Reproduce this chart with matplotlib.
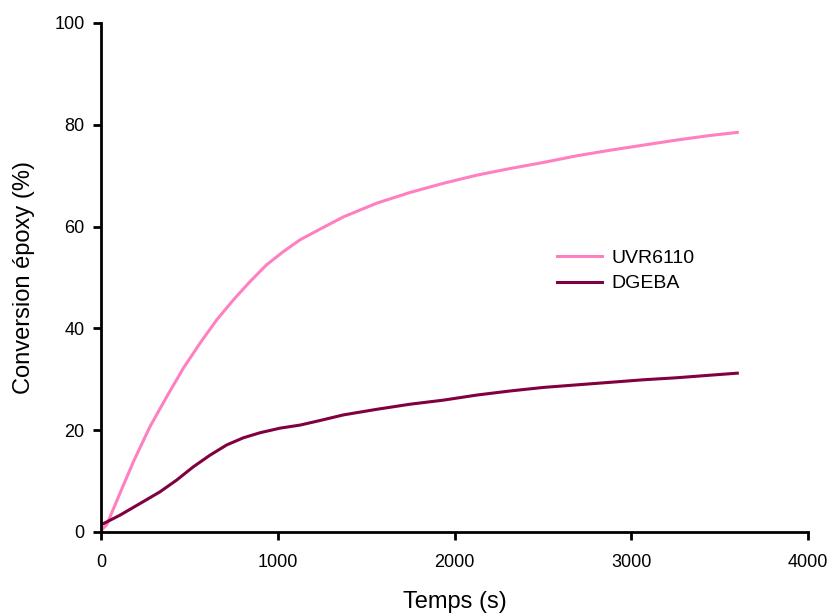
import matplotlib
matplotlib.use("Agg")
import matplotlib.pyplot as plt

plt.rcParams['font.family'] = ['Liberation Sans', 'DejaVu Sans']

t_uvr = [0, 32, 107, 183, 277, 372, 466, 560, 655, 749, 843, 937, 1032, 1126, 1239,
         1371, 1560, 1748, 1937, 2126, 2314, 2503, 2691, 2880, 3068, 3257, 3446, 3600]
uvr = [0.3, 1.4, 7.6, 13.8, 20.7, 26.6, 32.2, 37.1, 41.7, 45.6, 49.2, 52.5, 55.1, 57.4, 59.5,
       61.9, 64.6, 66.7, 68.5, 70.1, 71.4, 72.6, 73.9, 75.0, 76.0, 77.0, 77.9, 78.5]

t_dgeba = [0, 107, 221, 334, 428, 522, 617, 711, 805, 900, 1013, 1126, 1239,
           1371, 1560, 1748, 1937, 2126, 2314, 2503, 2691, 2880, 3068, 3257, 3446, 3600]
dgeba = [1.4, 3.3, 5.6, 7.9, 10.2, 12.8, 15.1, 17.1, 18.5, 19.5, 20.4, 21.0, 21.9,
         23.0, 24.1, 25.1, 25.9, 26.9, 27.7, 28.4, 28.9, 29.4, 29.9, 30.3, 30.8, 31.2]

x_ticks = [0, 1000, 2000, 3000, 4000]
y_ticks = [0, 20, 40, 60, 80, 100]

fig = plt.figure(figsize=(8.33, 6.16), dpi=100)
ax = fig.add_axes([0.1213, 0.1364, 0.8487, 0.8263])
ax.plot(t_uvr, uvr, color='#FF80C0', lw=2.2, label='UVR6110', solid_joinstyle='round')
ax.plot(t_dgeba, dgeba, color='#800040', lw=2.2, label='DGEBA', solid_joinstyle='round')
ax.set_xlim(0, 4000)
ax.set_ylim(0, 100)
ax.set_xticks(x_ticks)
ax.set_yticks(y_ticks)
for s in ['top', 'right']:
    ax.spines[s].set_visible(False)
for s in ['left', 'bottom']:
    ax.spines[s].set_linewidth(2)
ax.tick_params(direction='out', length=6, width=2, labelsize=13)
ax.tick_params(axis='x', pad=10)
ax.tick_params(axis='y', pad=6)
ax.set_xlabel('Temps (s)', fontsize=17, labelpad=14)
ax.set_ylabel('Conversion époxy (%)', fontsize=17, labelpad=14)
ax.legend(loc='center left', bbox_to_anchor=(0.645, 0.513), frameon=False, fontsize=14,
          handlelength=2.3, handletextpad=0.5, borderpad=0, borderaxespad=0, labelspacing=0.4)
fig.savefig('out.png', dpi=100)
